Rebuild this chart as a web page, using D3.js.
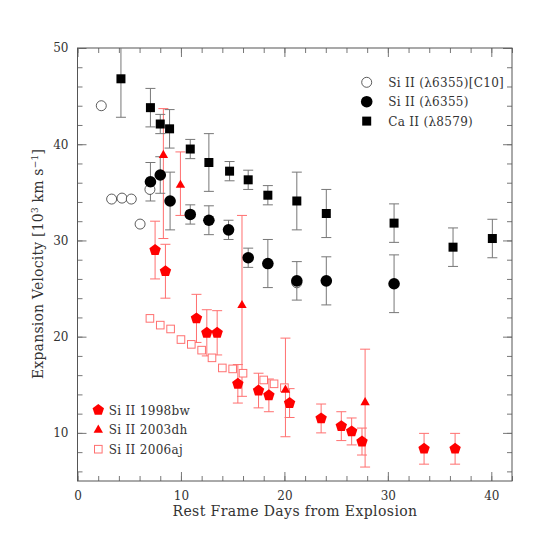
<!DOCTYPE html>
<html>
<head>
<meta charset="utf-8">
<script src="https://cdn.jsdelivr.net/npm/d3@7"></script>
<style>
body{margin:0;background:#fff;}
text{font-family:"DejaVu Serif",serif;fill:#333;}
</style>
</head>
<body>
<div id="graph"></div>
<script>
(function(){
"use strict";

// Si II (6355) [C10], open circles
var c10Days = [2.3, 3.3, 4.3, 5.2, 6.05, 7.0, 21.2];
var c10Vel = [44.0, 34.3, 34.4, 34.3, 31.7, 35.3, 25.6];

// Si II (6355), filled circles
var siDays = [7.05, 8.0, 8.95, 10.9, 12.7, 14.6, 16.5, 18.4, 21.2, 24.05, 30.6];
var siVel = [36.1, 36.8, 34.1, 32.7, 32.1, 31.1, 28.2, 27.6, 25.8, 25.8, 25.5];
var siErr = [2.0, 1.9, 3.0, 1.0, 1.5, 1.0, 1.0, 2.5, 2.0, 2.5, 3.0];

// Ca II (8579), squares
var caDays = [4.2, 7.05, 8.0, 8.9, 10.9, 12.7, 14.7, 16.5, 18.4, 21.2, 24.05, 30.6, 36.3, 40.1];
var caVel = [46.8, 43.8, 42.1, 41.6, 39.5, 38.1, 37.2, 36.3, 34.7, 34.1, 32.8, 31.8, 29.3, 30.2];
var caErr = [4.0, 2.0, 1.0, 2.0, 1.0, 3.0, 1.0, 1.0, 1.0, 3.0, 2.5, 2.0, 2.0, 2.0];

// Si II 1998bw, pentagons
var bwDays = [7.5, 8.5, 11.5, 12.5, 13.5, 15.5, 17.5, 18.5, 20.5, 23.55, 25.5, 26.5, 27.5, 33.5, 36.5];
var bwVel = [29.0, 26.8, 21.9, 20.4, 20.4, 15.1, 14.4, 13.9, 13.1, 11.5, 10.7, 10.15, 9.1, 8.35, 8.35];
var bwErr = [3.0, 2.8, 2.5, 2.4, 2.3, 2.0, 1.8, 1.7, 1.5, 1.5, 1.5, 1.4, 1.4, 1.6, 1.6];

// Si II 2003dh, triangles (asymmetric bars)
var dhDays = [8.3, 9.95, 15.9, 20.1, 27.8];
var dhVel = [38.9, 35.8, 23.3, 14.5, 13.2];
var dhLo = [30.2, 32.6, 13.8, 9.6, 6.45];
var dhHi = [43.7, 39.2, 32.6, 19.85, 18.7];

// Si II 2006aj, open squares
var ajDays = [7.0, 8.0, 9.0, 10.0, 11.0, 12.0, 13.0, 14.0, 15.0, 16.0, 18.0, 19.0, 20.0];
var ajVel = [21.9, 21.2, 20.8, 19.7, 19.2, 18.6, 17.8, 16.75, 16.65, 16.2, 15.5, 15.1, 14.7];

var xMajor = [0, 10, 20, 30, 40];
var yMajor = [10, 20, 30, 40, 50];

var margin = {top: 48, right: 46, bottom: 77, left: 77.5};
var width = 558 - margin.left - margin.right;
var height = 558 - margin.top - margin.bottom;
var red = "#ff0000";
var redBar = "#ff7070";
var greyBar = "#777";
var capW = 5;

var x = d3.scaleLinear().domain([0, 42]).range([0, width]);
var y = d3.scaleLinear().domain([5, 50]).range([height, 0]);

var svg = d3.select('#graph')
	.append('svg')
		.attr('width', 558)
		.attr('height', 558)
	.append('g')
		.attr('transform', 'translate(' + margin.left + ',' + margin.top + ')');

svg.append('clipPath').attr('id', 'clip')
	.append('rect').attr('width', width).attr('height', height);

function zip(days, vel, lo, hi){
	return days.map(function(d, i){
		return {day: d, v: vel[i], lo: lo ? lo[i] : null, hi: hi ? hi[i] : null};
	});
}
function sym(days, vel, err){
	return zip(days, vel,
		vel.map(function(v, i){ return v - err[i]; }),
		vel.map(function(v, i){ return v + err[i]; }));
}

var caData = sym(caDays, caVel, caErr);
var siData = sym(siDays, siVel, siErr);
var bwData = sym(bwDays, bwVel, bwErr);
var dhData = zip(dhDays, dhVel, dhLo, dhHi);
var ajData = zip(ajDays, ajVel);
var c10Data = zip(c10Days, c10Vel);

// axes: minor + major ticks on all four sides, pointing in
function ticks(axisFn, scale, minor, major, label, tx, ty, pad){
	svg.append('g')
		.attr('transform', 'translate(' + tx + ',' + ty + ')')
		.call(axisFn(scale).tickValues(minor).tickSize(-5).tickFormat(''))
		.call(function(g){ g.select('.domain').remove(); });
	var g = svg.append('g')
		.attr('transform', 'translate(' + tx + ',' + ty + ')')
		.call(axisFn(scale).tickValues(major).tickSize(-9).tickPadding(pad)
			.tickFormat(label ? d3.format('d') : ''));
	g.select('.domain').remove();
	g.selectAll('text').style('font-size', '12px').style('font-family', '"DejaVu Serif",serif').attr('fill', '#333');
}
var xMinor = d3.range(0, 43, 2);
var yMinor = d3.range(6, 51, 2);
ticks(d3.axisBottom, x, xMinor, xMajor, true, 0, height, 10);
ticks(d3.axisTop, x, xMinor, xMajor, false, 0, 0, 0);
ticks(d3.axisLeft, y, yMinor, yMajor, true, 0, 0, 9);
ticks(d3.axisRight, y, yMinor, yMajor, false, width, 0, 0);
svg.selectAll('.tick line').attr('stroke', '#777');

svg.append('rect')
	.attr('width', width)
	.attr('height', height)
	.attr('fill', 'none')
	.attr('stroke', '#555');

var plot = svg.append('g').attr('clip-path', 'url(#clip)');

function errorBars(data, colour){
	var g = plot.append('g').attr('stroke', colour).attr('stroke-width', 1).attr('fill', 'none');
	g.selectAll('path')
		.data(data)
		.enter()
		.append('path')
			.attr('d', function(d){
				var px = x(d.day), a = y(d.lo), b = y(d.hi);
				return 'M' + px + ',' + a + 'V' + b +
					'M' + (px - capW) + ',' + a + 'H' + (px + capW) +
					'M' + (px - capW) + ',' + b + 'H' + (px + capW);
			});
}

errorBars(bwData, redBar);
errorBars(dhData, redBar);
errorBars(caData, greyBar);
errorBars(siData, greyBar);

function pentagon(r){
	var p = d3.range(5).map(function(k){
		var a = -Math.PI / 2 + k * 2 * Math.PI / 5;
		return [r * Math.cos(a), r * Math.sin(a)];
	});
	return 'M' + p.join('L') + 'Z';
}
var shapes = {
	open: function(s){ s.append('circle').attr('r', 5).attr('fill', '#fff').attr('stroke', '#333').attr('stroke-width', 0.8); },
	dot: function(s){ s.append('circle').attr('r', 5.8).attr('fill', '#000'); },
	square: function(s){ s.append('rect').attr('x', -4.5).attr('y', -4.5).attr('width', 9).attr('height', 9).attr('fill', '#000'); },
	pent: function(s){ s.append('path').attr('d', pentagon(6)).attr('fill', red); },
	tri: function(s){ s.append('path').attr('d', 'M0,-5L4.7,3.2L-4.7,3.2Z').attr('fill', red); },
	osq: function(s){ s.append('rect').attr('x', -3.8).attr('y', -3.8).attr('width', 7.6).attr('height', 7.6).attr('fill', '#fff').attr('stroke', redBar).attr('stroke-width', 1); }
};

function points(data, shape){
	plot.append('g')
		.selectAll('g')
		.data(data)
		.enter()
		.append('g')
			.attr('transform', function(d){ return 'translate(' + x(d.day) + ',' + y(d.v) + ')'; })
			.call(shapes[shape]);
}

points(ajData, 'osq');
points(bwData, 'pent');
points(dhData, 'tri');
points(c10Data, 'open');
points(siData, 'dot');
points(caData, 'square');

// legends
var topLegend = [['open', 'Si II (\u03bb6355)[C10]'], ['dot', 'Si II (\u03bb6355)'], ['square', 'Ca II (\u03bb8579)']];
var botLegend = [['pent', 'Si II 1998bw'], ['tri', 'Si II 2003dh'], ['osq', 'Si II 2006aj']];

function legend(items, lx, ly, step, gap){
	var row = svg.append('g')
		.selectAll('g')
		.data(items)
		.enter()
		.append('g')
			.attr('transform', function(d, i){ return 'translate(' + lx + ',' + (ly + i * step) + ')'; });
	row.each(function(d){ d3.select(this).call(shapes[d[0]]); });
	row.append('text')
		.attr('x', gap)
		.attr('y', 4.5)
		.style('font-size', '12px')
		.style('letter-spacing', '0.3px')
		.text(function(d){ return d[1]; });
}
legend(topLegend, 366.7 - margin.left, 82.3 - margin.top, 19.4, 21.5);
legend(botLegend, 98.3 - margin.left, 410 - margin.top, 19.6, 10.5);

// axis titles
svg.append('text')
	.attr('x', 295 - margin.left)
	.attr('y', 516 - margin.top)
	.attr('text-anchor', 'middle')
	.style('font-size', '14px')
	.style('letter-spacing', '0.4px')
	.text('Rest Frame Days from Explosion');

var yl = svg.append('text')
	.attr('transform', 'translate(' + (43 - margin.left) + ',' + (264 - margin.top) + ') rotate(-90)')
	.attr('text-anchor', 'middle')
	.style('font-size', '14px')
	.style('letter-spacing', '0.2px');
yl.append('tspan').text('Expansion Velocity [10');
yl.append('tspan').attr('dy', -5).style('font-size', '9px').text('3');
yl.append('tspan').attr('dy', 5).text(' km s');
yl.append('tspan').attr('dy', -5).style('font-size', '9px').text('\u22121');
yl.append('tspan').attr('dy', 5).text(']');

})();
</script>
</body>
</html>
